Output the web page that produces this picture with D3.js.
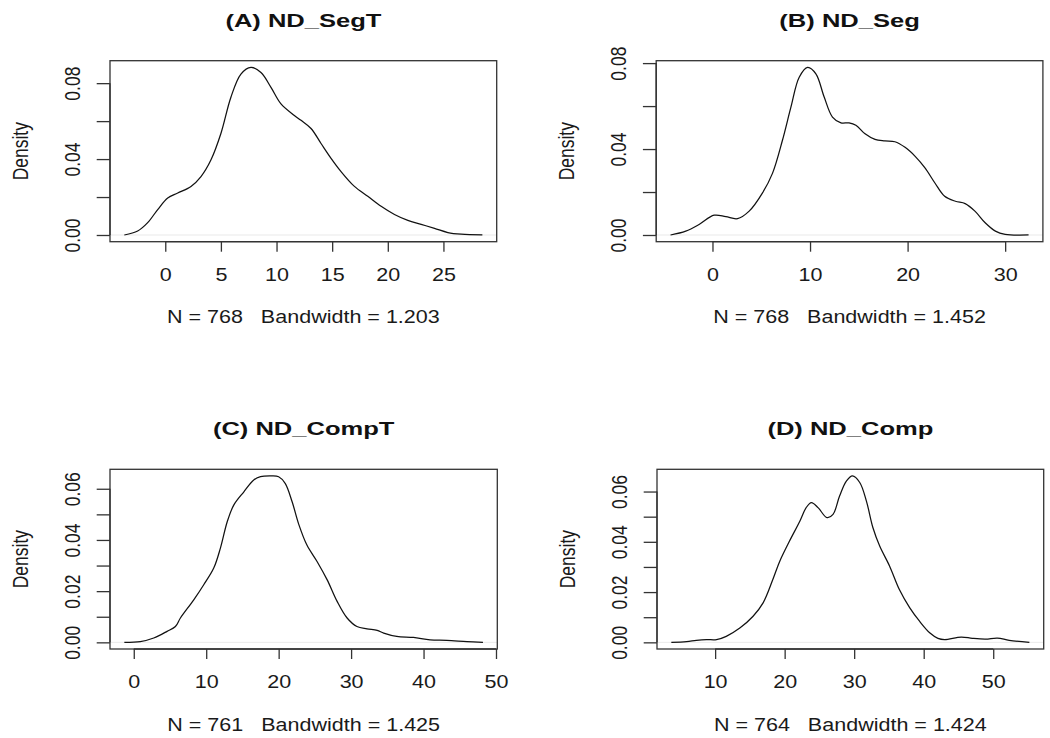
<!DOCTYPE html>
<html>
<head>
<meta charset="utf-8">
<script src="https://cdn.jsdelivr.net/npm/d3@7"></script>
<style>
  html, body { margin: 0; padding: 0; background: #fff; }
  svg { display: block; font-family: "Liberation Sans", Arial, Helvetica, sans-serif; }
</style>
</head>
<body>
<svg id="chart" width="1050" height="738"></svg>
<script>
// Kernel density estimates (x, density) for the four ND variables

const segT_x = [-3.68, -2.48, -1.58, -0.68, 0.22, 1.12, 2.31, 3.21, 4.1, 5.0, 5.9, 6.8, 7.7, 8.6, 9.5, 10.4, 11.6, 12.2, 13.1, 14.0, 14.9, 15.8, 17.0, 18.2, 19.4, 20.6, 21.8, 23.0, 24.2, 25.4, 26.6, 28.5];
const segT_y = [0, 0.0021, 0.0065, 0.0134, 0.0195, 0.0221, 0.0256, 0.0308, 0.0395, 0.0535, 0.0726, 0.0848, 0.0883, 0.0856, 0.0778, 0.0691, 0.063, 0.0604, 0.0561, 0.0482, 0.0404, 0.0334, 0.0256, 0.0204, 0.0151, 0.0108, 0.0077, 0.0056, 0.0035, 0.0013, 0.0004, 0];

const seg_x = [-4.3, -2.74, -1.37, 0.17, 1.37, 2.57, 3.76, 5.13, 6.16, 7.18, 8.04, 8.89, 9.75, 10.6, 11.45, 12.3, 13.17, 14.0, 14.7, 15.6, 16.66, 17.68, 18.7, 19.74, 20.8, 21.8, 22.8, 23.8, 24.9, 25.9, 26.9, 27.95, 29.0, 30.0, 32.4];
const seg_y = [0, 0.0018, 0.0049, 0.0092, 0.0085, 0.0076, 0.0111, 0.0196, 0.0288, 0.0442, 0.0595, 0.0734, 0.078, 0.075, 0.0642, 0.0549, 0.0522, 0.0522, 0.0511, 0.0472, 0.0445, 0.0438, 0.0434, 0.0408, 0.0365, 0.0311, 0.0242, 0.018, 0.0157, 0.0146, 0.0111, 0.0057, 0.0018, 0.0003, 0];

const compT_x = [-1.3, 0.9, 2.76, 4.6, 5.75, 6.44, 8.28, 9.66, 11.04, 11.96, 12.9, 13.8, 15.2, 16.56, 17.5, 18.86, 20.0, 20.9, 21.86, 22.8, 23.9, 25.3, 26.7, 28.07, 29.45, 30.8, 32.2, 33.6, 34.5, 36.3, 38.6, 40.9, 43.2, 46.0, 48.2];
const compT_y = [0, 0.0003, 0.0017, 0.0043, 0.0062, 0.0095, 0.0166, 0.0225, 0.029, 0.0368, 0.0471, 0.0536, 0.0588, 0.0634, 0.0647, 0.065, 0.0647, 0.0621, 0.0549, 0.0459, 0.038, 0.0316, 0.0244, 0.016, 0.0095, 0.0062, 0.0053, 0.0047, 0.0036, 0.0023, 0.0019, 0.001, 0.0008, 0.0003, 0];

const comp_x = [3.7, 5.9, 7.3, 8.75, 10.2, 11.6, 13.55, 15.46, 16.9, 18.3, 19.3, 20.7, 22.2, 23.1, 23.85, 24.8, 26.1, 26.96, 27.9, 28.9, 29.75, 30.8, 31.76, 32.7, 33.67, 35.1, 36.5, 38.0, 39.4, 40.9, 42.05, 43.0, 45.4, 47.0, 48.9, 50.6, 52.3, 55.2];
const comp_y = [0, 0.0003, 0.0008, 0.0011, 0.0011, 0.0024, 0.0057, 0.0104, 0.0157, 0.025, 0.0323, 0.0403, 0.0483, 0.0536, 0.0556, 0.0536, 0.0496, 0.0509, 0.0582, 0.0642, 0.0662, 0.0636, 0.0562, 0.0456, 0.0383, 0.0303, 0.021, 0.0137, 0.0084, 0.0037, 0.0016, 0.0011, 0.0021, 0.0016, 0.0013, 0.0017, 0.0008, 0];

const titles = ["(A) ND_SegT", "(B) ND_Seg", "(C) ND_CompT", "(D) ND_Comp"];
const sampleN = [768, 768, 761, 764];
const bandwidths = ["1.203", "1.452", "1.425", "1.424"];

const xTicks = [
  [0, 5, 10, 15, 20, 25],
  [0, 10, 20, 30],
  [0, 10, 20, 30, 40, 50],
  [10, 20, 30, 40, 50]
];
const yTicks = [
  [0, 0.02, 0.04, 0.06, 0.08],
  [0, 0.02, 0.04, 0.06, 0.08],
  [0, 0.01, 0.02, 0.03, 0.04, 0.05, 0.06],
  [0, 0.01, 0.02, 0.03, 0.04, 0.05, 0.06]
];
const yTickLabels = [
  ["0.00", "", "0.04", "", "0.08"],
  ["0.00", "", "0.04", "", "0.08"],
  ["0.00", "", "0.02", "", "0.04", "", "0.06"],
  ["0.00", "", "0.02", "", "0.04", "", "0.06"]
];

const series = [
  { x: segT_x, y: segT_y },
  { x: seg_x, y: seg_y },
  { x: compT_x, y: compT_y },
  { x: comp_x, y: comp_y }
];

// Panel frames (2 x 2 grid)
const frames = [
  { left: 110,   top: 60.7,  width: 386.7, height: 181 },
  { left: 656.2, top: 60.7,  width: 386.7, height: 181 },
  { left: 110,   top: 469.3, width: 387.3, height: 179.7 },
  { left: 657,   top: 469.3, width: 386.7, height: 179.7 }
];

const textColor = "#1a1a1a";
const fontSize = 17.5;
const stretch = 1.23;      // horizontal text stretch
const titleSize = 18.5;
const titleStretch = 1.38;

const svg = d3.select("#chart");

series.forEach((s, i) => {
  const f = frames[i];
  const g = svg.append("g");

  // R-style 4% padding of the data range
  const [x0, x1] = d3.extent(s.x);
  const padX = (x1 - x0) * 0.04;
  const yMax = d3.max(s.y);
  const x = d3.scaleLinear().domain([x0 - padX, x1 + padX]).range([f.left, f.left + f.width]);
  const y = d3.scaleLinear().domain([-0.04 * yMax, 1.04 * yMax]).range([f.top + f.height, f.top]);

  // zero reference line
  g.append("line")
    .attr("x1", f.left).attr("x2", f.left + f.width)
    .attr("y1", y(0)).attr("y2", y(0))
    .attr("stroke", "#e4e4e4").attr("stroke-width", 0.8);

  // density curve
  const pts = s.x.map((v, k) => [v, s.y[k]]);
  g.append("path")
    .datum(pts)
    .attr("fill", "none")
    .attr("stroke", "#111")
    .attr("stroke-width", 1.25)
    .attr("d", d3.line().x(d => x(d[0])).y(d => y(d[1])).curve(d3.curveCatmullRom.alpha(0.5)));

  // plot box
  g.append("rect")
    .attr("x", f.left).attr("y", f.top)
    .attr("width", f.width).attr("height", f.height)
    .attr("fill", "none").attr("stroke", "#333").attr("stroke-width", 1.3);

  // bottom axis
  const xt = xTicks[i];
  const xAxis = g.append("g")
    .attr("transform", `translate(0,${f.top + f.height})`)
    .call(d3.axisBottom(x).tickValues(xt).tickSize(10).tickSizeOuter(0).tickFormat(d3.format("d")));
  xAxis.select(".domain").remove();
  xAxis.append("line")
    .attr("x1", x(xt[0])).attr("x2", x(xt[xt.length - 1]))
    .attr("stroke", "#333").attr("stroke-width", 1.3);
  xAxis.selectAll(".tick line").attr("stroke", "#333").attr("stroke-width", 1.3);
  xAxis.selectAll(".tick text")
    .attr("y", 39).attr("dy", 0)
    .attr("fill", textColor)
    .style("font-size", fontSize + "px")
    .attr("transform", `scale(${stretch},1)`);

  // left axis
  const yt = yTicks[i];
  const yl = yTickLabels[i];
  const yAxis = g.append("g")
    .attr("transform", `translate(${f.left},0)`)
    .call(d3.axisLeft(y).tickValues(yt).tickSize(13.3).tickSizeOuter(0).tickFormat((d, k) => yl[k]));
  yAxis.select(".domain").remove();
  yAxis.append("line")
    .attr("y1", y(yt[0])).attr("y2", y(yt[yt.length - 1]))
    .attr("stroke", "#333").attr("stroke-width", 1.3);
  yAxis.selectAll(".tick line").attr("stroke", "#333").attr("stroke-width", 1.3);
  yAxis.selectAll(".tick text")
    .attr("x", 0).attr("y", 0).attr("dy", 0)
    .attr("text-anchor", "middle")
    .attr("fill", textColor)
    .style("font-size", fontSize + "px")
    .attr("transform", `translate(-30,0) scale(${stretch},1) rotate(-90)`);

  // y label
  g.append("text")
    .attr("transform", `translate(${f.left - 82},${f.top + f.height / 2}) scale(${stretch},1) rotate(-90)`)
    .attr("text-anchor", "middle")
    .attr("fill", textColor)
    .style("font-size", fontSize + "px")
    .text("Density");

  // x label: sample size and bandwidth
  g.append("text")
    .attr("transform", `translate(${f.left + f.width / 2},${f.top + f.height + 81.5}) scale(${stretch},1)`)
    .attr("text-anchor", "middle")
    .attr("fill", textColor)
    .style("font-size", fontSize + "px")
    .style("white-space", "pre")
    .text(`N = ${sampleN[i]}   Bandwidth = ${bandwidths[i]}`);

  // panel title
  g.append("text")
    .attr("transform", `translate(${f.left + f.width / 2},${f.top - 34}) scale(${titleStretch},1)`)
    .attr("text-anchor", "middle")
    .attr("fill", "#111")
    .style("font-size", titleSize + "px")
    .style("font-weight", "bold")
    .text(titles[i]);
});
</script>
</body>
</html>
